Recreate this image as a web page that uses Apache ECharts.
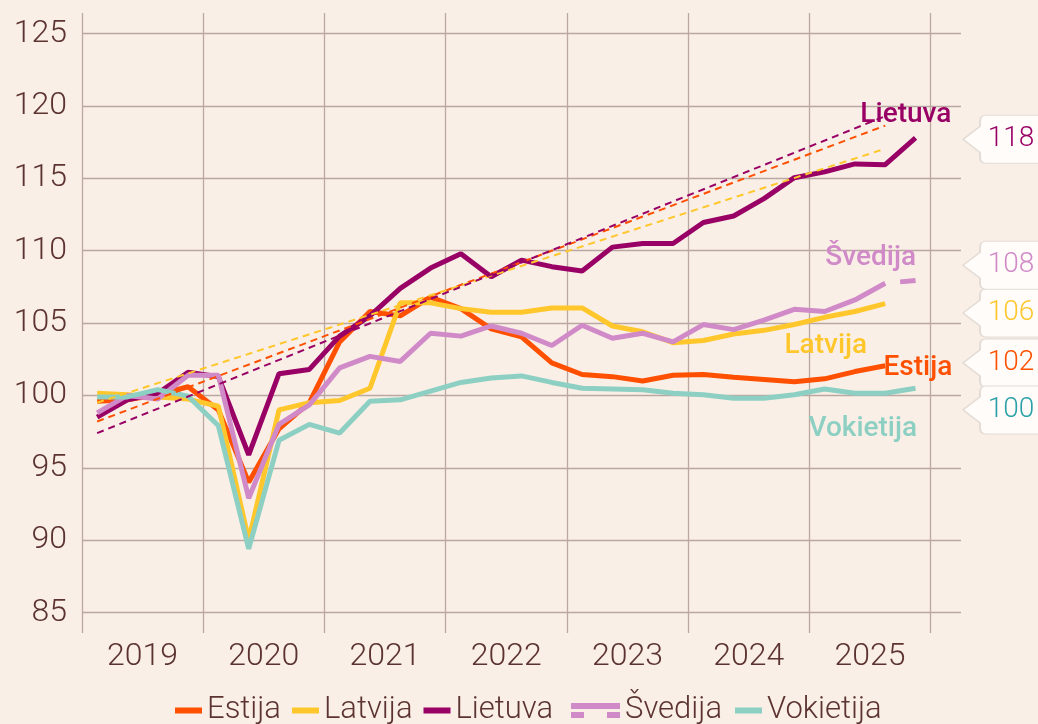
<!DOCTYPE html>
<html>
<head>
<meta charset="utf-8">
<script src="https://cdn.jsdelivr.net/npm/echarts@6/dist/echarts.min.js"></script>
<style>
html, body { margin: 0; padding: 0; background: #f9efe6; }
#main { width: 1038px; height: 724px; }
</style>
</head>
<body>
<div id="main"></div>
<script>
// ketvirčiai 2019 K1 ... 2025 K4
var years = ['2019', '2020', '2021', '2022', '2023', '2024', '2025'];
var yTicks = [85, 90, 95, 100, 105, 110, 115, 120, 125];

var estija = [99.6, 99.7, 100.05, 100.6, 99.0, 94.0, 97.7, 99.5, 103.7, 105.8, 105.5, 106.8, 106.0, 104.6, 104.05, 102.25, 101.45, 101.3, 101.0, 101.4, 101.45, 101.25, 101.1, 100.95, 101.15, 101.65, 102.05];
var latvija = [100.15, 100.05, 99.9, 99.75, 99.25, 90.0, 99.0, 99.5, 99.65, 100.5, 106.4, 106.4, 106.0, 105.75, 105.75, 106.05, 106.05, 104.8, 104.4, 103.65, 103.8, 104.25, 104.5, 104.9, 105.4, 105.8, 106.35];
var lietuva = [98.5, 99.7, 100.15, 101.6, 101.3, 95.9, 101.5, 101.8, 104.1, 105.5, 107.4, 108.8, 109.8, 108.2, 109.35, 108.9, 108.6, 110.25, 110.5, 110.5, 111.95, 112.4, 113.6, 115.05, 115.45, 116.0, 115.95, 117.8];
var svedija = [98.8, 100.0, 99.75, 101.4, 101.4, 92.9, 98.0, 99.35, 101.9, 102.7, 102.35, 104.3, 104.1, 104.8, 104.3, 103.45, 104.85, 103.95, 104.3, 103.7, 104.9, 104.55, 105.2, 105.95, 105.8, 106.6, 107.75];
var svedijaProg = [107.75, 107.95]; // 2025 K3 - K4, prognozė
var vokietija = [99.9, 99.9, 100.4, 99.95, 97.9, 89.4, 96.9, 98.0, 97.4, 99.6, 99.7, 100.3, 100.9, 101.2, 101.35, 100.9, 100.5, 100.45, 100.4, 100.15, 100.05, 99.8, 99.8, 100.05, 100.45, 100.15, 100.15, 100.5];

// tendencijos linijos: 2019 K1 ir 2025 K3 reikšmės
var trendEstija = [98.2, 118.65];
var trendLatvija = [99.5, 117.05];
var trendLietuva = [97.4, 119.3];

// paskutinių reikšmių etiketės dešinėje
var calloutText = { Lietuva: '118', Svedija: '108', Latvija: '106', Estija: '102', Vokietija: '100' };
var calloutY = { Lietuva: 117.7, Svedija: 109.0, Latvija: 105.7, Estija: 102.25, Vokietija: 99.0 };
// pavadinimų vietos grafike (ketvirtis, reikšmė)
var nameAt = {
    Lietuva: [27.18, 119.4],
    Svedija: [26.02, 109.5],
    Latvija: [24.54, 103.4],
    Estija: [27.58, 101.92],
    Vokietija: [25.76, 97.7]
};

var colors = {
    Estija: '#fe5000',
    Latvija: '#ffc72c',
    Lietuva: '#990066',
    Svedija: '#d18ac8',
    Vokietija: '#8dd0c3'
};
var calloutColors = {
    Estija: '#fe5000',
    Latvija: '#ffc72c',
    Lietuva: '#990066',
    Svedija: '#d18ac8',
    Vokietija: '#2aa0a8'
};

var textColor = '#5c3331';
var gridColor = '#bba7a2';

function pts(arr, start) {
    return arr.map(function (v, i) { return [start + i + 0.5, v]; });
}

function marks(key, name) {
    return {
        silent: true,
        data: [
            {
                coord: [29, calloutY[key]],
                symbol: 'path://M0,24 L17,11 L17,6 Q17,0 23,0 L92,0 L92,48 L23,48 Q17,48 17,42 L17,37 Z',
                symbolSize: [92, 48],
                symbolOffset: [48, 0],
                itemStyle: { color: '#fffcf9', borderColor: '#e4dcd6', borderWidth: 1.5 },
                label: {
                    show: true, position: 'inside', offset: [2, 0],
                    formatter: calloutText[key],
                    color: calloutColors[key], fontSize: 28, fontFamily: 'Roboto', fontWeight: 300
                }
            },
            {
                coord: nameAt[key],
                symbol: 'circle',
                symbolSize: 1,
                itemStyle: { color: 'rgba(0,0,0,0)' },
                label: {
                    show: true, position: 'inside',
                    formatter: name,
                    color: colors[key], fontSize: 28, fontFamily: 'Roboto', fontWeight: 500
                }
            }
        ]
    };
}

function line(name, key, data, start) {
    return {
        name: name,
        type: 'line',
        xAxisIndex: 0, yAxisIndex: 0,
        data: pts(data, start),
        color: colors[key],
        symbol: 'none',
        lineStyle: { width: 5, color: colors[key] },
        markPoint: marks(key, name),
        z: 3
    };
}

function trend(key, vals) {
    return {
        name: key + ' tendencija',
        type: 'line',
        xAxisIndex: 0, yAxisIndex: 0,
        data: [[0.5, vals[0]], [26.5, vals[1]]],
        symbol: 'none',
        silent: true,
        lineStyle: { width: 2, color: colors[key], type: [7, 5] },
        z: 4
    };
}

var legendText = { color: textColor, fontSize: 31, fontFamily: 'Roboto', fontWeight: 300 };

var myChart = echarts.init(document.getElementById('main'));
myChart.setOption({
    backgroundColor: '#f9efe6',
    animation: false,
    textStyle: { fontFamily: 'Roboto' },
    grid: [
        { left: 82, right: 77, top: 33.7, bottom: 111.5 },
        { left: 82, right: 77, top: 13, bottom: 91 }
    ],
    legend: [
        {
            data: ['Estija', 'Latvija', 'Lietuva'],
            left: 170, top: 690,
            icon: 'rect', itemWidth: 27, itemHeight: 6, itemGap: 11,
            textStyle: legendText, selectedMode: false
        },
        {
            data: [{ name: 'Švedija', icon: 'path://M0,0 H49 V6 H0 Z M0,9 H13 V15 H0 Z M36,9 H49 V15 H36 Z' }],
            left: 566, top: 690,
            itemWidth: 49, itemHeight: 15,
            textStyle: legendText, selectedMode: false
        },
        {
            data: ['Vokietija'],
            left: 730, top: 690,
            icon: 'rect', itemWidth: 27, itemHeight: 6,
            textStyle: legendText, selectedMode: false
        }
    ],
    xAxis: [
        { gridIndex: 0, type: 'value', min: 0, max: 29, show: false },
        {
            gridIndex: 1, type: 'value', min: 0, max: 29, interval: 4, position: 'bottom',
            axisLine: { show: false }, axisTick: { show: false }, axisLabel: { show: false },
            splitLine: { show: true, showMaxLine: false, lineStyle: { color: gridColor, width: 1.3 } }
        },
        {
            gridIndex: 1, type: 'value', min: 0, max: 29, interval: 2, position: 'bottom',
            axisLine: { show: false }, axisTick: { show: false }, splitLine: { show: false },
            axisLabel: {
                margin: 8, color: textColor, fontSize: 32, fontWeight: 300, fontFamily: 'Roboto',
                showMinLabel: false, showMaxLabel: false,
                formatter: function (v) {
                    var k = (v - 2) / 4;
                    return (k >= 0 && k % 1 === 0 && years[k]) ? years[k] : '';
                }
            }
        }
    ],
    yAxis: [
        {
            gridIndex: 0, type: 'value', min: yTicks[0], max: yTicks[yTicks.length - 1], interval: 5,
            axisLine: { show: false }, axisTick: { show: false },
            axisLabel: { margin: 15, color: textColor, fontSize: 32, fontWeight: 300, fontFamily: 'Roboto' },
            splitLine: { lineStyle: { color: gridColor, width: 1.3 } }
        },
        { gridIndex: 1, type: 'value', min: 0, max: 1, show: false }
    ],
    series: [
        line('Estija', 'Estija', estija, 0),
        line('Latvija', 'Latvija', latvija, 0),
        line('Lietuva', 'Lietuva', lietuva, 0),
        line('Švedija', 'Svedija', svedija, 0),
        {
            name: 'Švedija',
            type: 'line',
            data: pts(svedijaProg, 26),
            color: colors.Svedija,
            symbol: 'none',
            lineStyle: { width: 5, color: colors.Svedija, type: [16, 15], dashOffset: 16 },
            z: 3
        },
        line('Vokietija', 'Vokietija', vokietija, 0),
        trend('Estija', trendEstija),
        trend('Latvija', trendLatvija),
        trend('Lietuva', trendLietuva)
    ]
});
</script>
</body>
</html>
